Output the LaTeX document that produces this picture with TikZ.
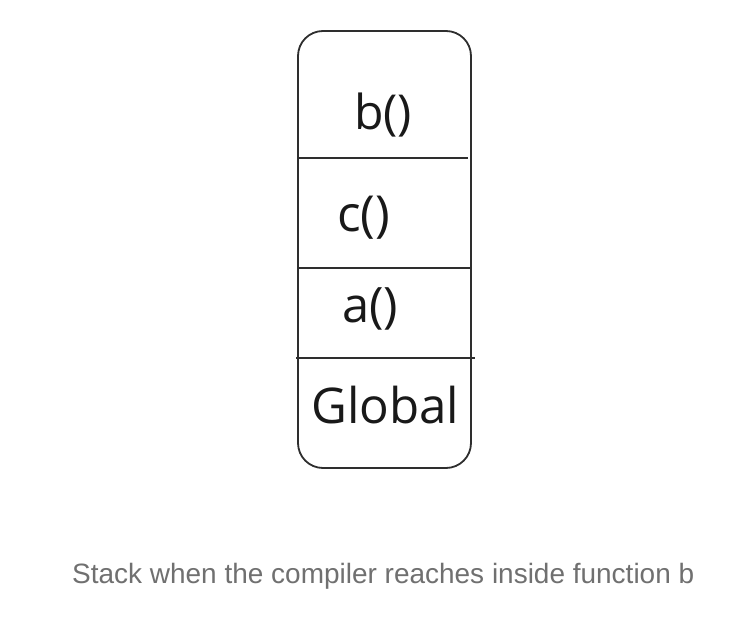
\documentclass[tikz,border=0pt]{standalone}
\usepackage{fontspec}
\usepackage{graphicx}
\setmainfont{Open Sans}
\newfontfamily\capfont{Liberation Sans}
\definecolor{linecol}{HTML}{2E2E2E}
\definecolor{capcol}{HTML}{707070}
\tikzset{
  frame/.style={draw=linecol, line width=1.8pt},
  slot/.style={anchor=base west, inner sep=0pt, text=black!90, font=\fontsize{46}{50}\selectfont},
  caption/.style={anchor=base west, inner sep=0pt, text=capcol}
}
\begin{document}
\begin{tikzpicture}[x=1pt,y=-1pt]
\useasboundingbox (0,0) rectangle (734,620);
\fill[white] (0,0) rectangle (734,620);
\draw[frame, rounded corners=25pt] (298,31) rectangle (471,468);
\draw[frame] (298,158) -- (468,158);
\draw[frame] (298,268) -- (471,268);
\draw[frame] (296,358) -- (475,358);
\node[slot] (b) at (354,130) {\resizebox{58pt}{!}{b()}};
\node[slot] (c) at (337,232) {\resizebox{53pt}{!}{c()}};
\node[slot] (a) at (342,323) {\resizebox{56pt}{!}{a()}};
\node[slot] (g) at (311,423) {\resizebox{148pt}{!}{Global}};
\node[caption] (cap) at (72,583) {\resizebox{622pt}{!}{\capfont Stack when the compiler reaches inside function b}};
\end{tikzpicture}
\end{document}
